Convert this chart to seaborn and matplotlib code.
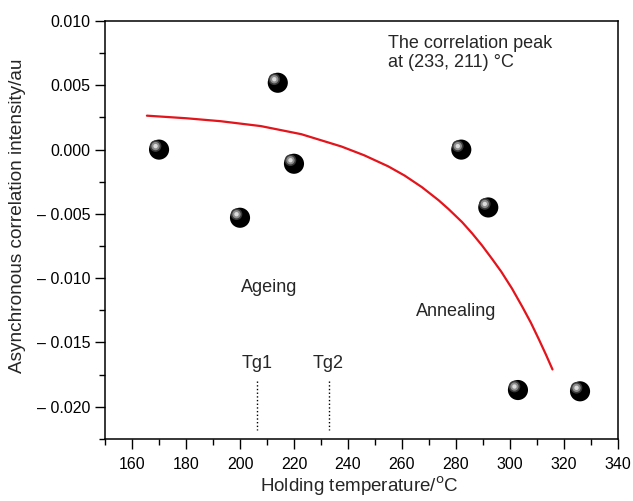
import numpy as np
import pandas as pd
import matplotlib
matplotlib.use('Agg')
import matplotlib.pyplot as plt
import matplotlib.transforms as mtransforms
from matplotlib.ticker import MultipleLocator
import seaborn as sns

# Данные: точки
temp = [170, 200, 214, 220, 282, 292, 303, 326]
intensity = [0.0000, -0.0053, 0.0052, -0.0011, 0.0000, -0.0045, -0.0187, -0.0188]

# Красная кривая
fit_temp = [165.5, 180.0, 192.8, 207.7, 222.7, 237.6, 246.0, 254.9, 261.0, 267.4,
            273.6, 277.3, 282.3, 286.0, 289.7, 293.4, 296.8, 300.8, 304.6,
            307.8, 310.8, 313.4, 315.8]
fit_int = [0.00264, 0.00244, 0.00221, 0.00183, 0.00120, 0.00024, -0.00044, -0.00130,
           -0.00202, -0.00292, -0.00394, -0.00463, -0.00564, -0.00651, -0.00746,
           -0.00850, -0.00949, -0.01081, -0.01222, -0.01347, -0.01478, -0.01596,
           -0.01710]

tg_pos = [206.3, 232.8]
tg_names = ['Tg1', 'Tg2']

sns.set_style('ticks')
plt.rcParams['font.family'] = ['Liberation Sans', 'DejaVu Sans']

fig = plt.figure(figsize=(6.33, 5.01), dpi=100)
ax = fig.add_axes([0.166, 0.124, 0.81, 0.834])

pts = pd.DataFrame({'t': temp, 'i': intensity})
fit = pd.DataFrame({'t': fit_temp, 'i': fit_int})

sns.lineplot(data=fit, x='t', y='i', ax=ax, color='#e3141b', lw=1.6, zorder=2)

# шарики: черный круг + блик
sns.scatterplot(data=pts, x='t', y='i', ax=ax, color='black', s=210,
                edgecolor='none', zorder=3)
hl = mtransforms.offset_copy(ax.transData, fig=fig, x=-3.5, y=3.5, units='dots')
ax.scatter(temp, intensity, s=70, color='#3a3a3a', edgecolor='none',
           transform=hl, zorder=4)
ax.scatter(temp, intensity, s=36, color='#8c8c8c', edgecolor='none',
           transform=hl, zorder=5)
ax.scatter(temp, intensity, s=10, color='#dcdcdc', edgecolor='none',
           transform=hl, zorder=6)

# Tg линии
for x, name in zip(tg_pos, tg_names):
    ax.plot([x, x], [-0.0180, -0.0218], ls=':', color='black', lw=1.0)
    ax.text(x, -0.0166, name, ha='center', va='center', fontsize=13)

ax.text(255.0, 0.0089, 'The correlation peak\nat (233, 211) \u00b0C',
        ha='left', va='top', fontsize=13, linespacing=1.15)
ax.text(200.3, -0.0107, 'Ageing', ha='left', va='center', fontsize=13)
ax.text(265.3, -0.0126, 'Annealing', ha='left', va='center', fontsize=13)

ax.set_xlim(150, 340)
ax.set_ylim(-0.0225, 0.010)
ax.set_xticks(np.arange(160, 341, 20))
yt = [0.010, 0.005, 0.000, -0.005, -0.010, -0.015, -0.020]
ax.set_yticks(yt)
ax.set_yticklabels([('\u2013 %.3f' % abs(v)) if v < 0 else '%.3f' % v for v in yt])
ax.xaxis.set_minor_locator(MultipleLocator(10))
ax.yaxis.set_minor_locator(MultipleLocator(0.0025))
ax.tick_params(which='major', direction='out', length=7, width=1.0,
               labelsize=11.5, top=False, right=False, color='black', labelcolor='black')
ax.tick_params(axis='x', which='major', pad=6)
ax.tick_params(which='minor', direction='out', length=4, width=1.0,
               top=False, right=False, color='black')

for s in ax.spines.values():
    s.set_visible(True)
    s.set_linewidth(1.1)
    s.set_color('black')

ax.set_xlabel('Holding temperature/$^{\\rm o}$C', fontsize=13.5)
ax.set_ylabel('Asynchronous correlation intensity/au', fontsize=13.7)
ax.xaxis.set_label_coords(0.495, -0.086)
ax.yaxis.set_label_coords(-0.155, 0.533)

fig.savefig('out.png', dpi=100)
